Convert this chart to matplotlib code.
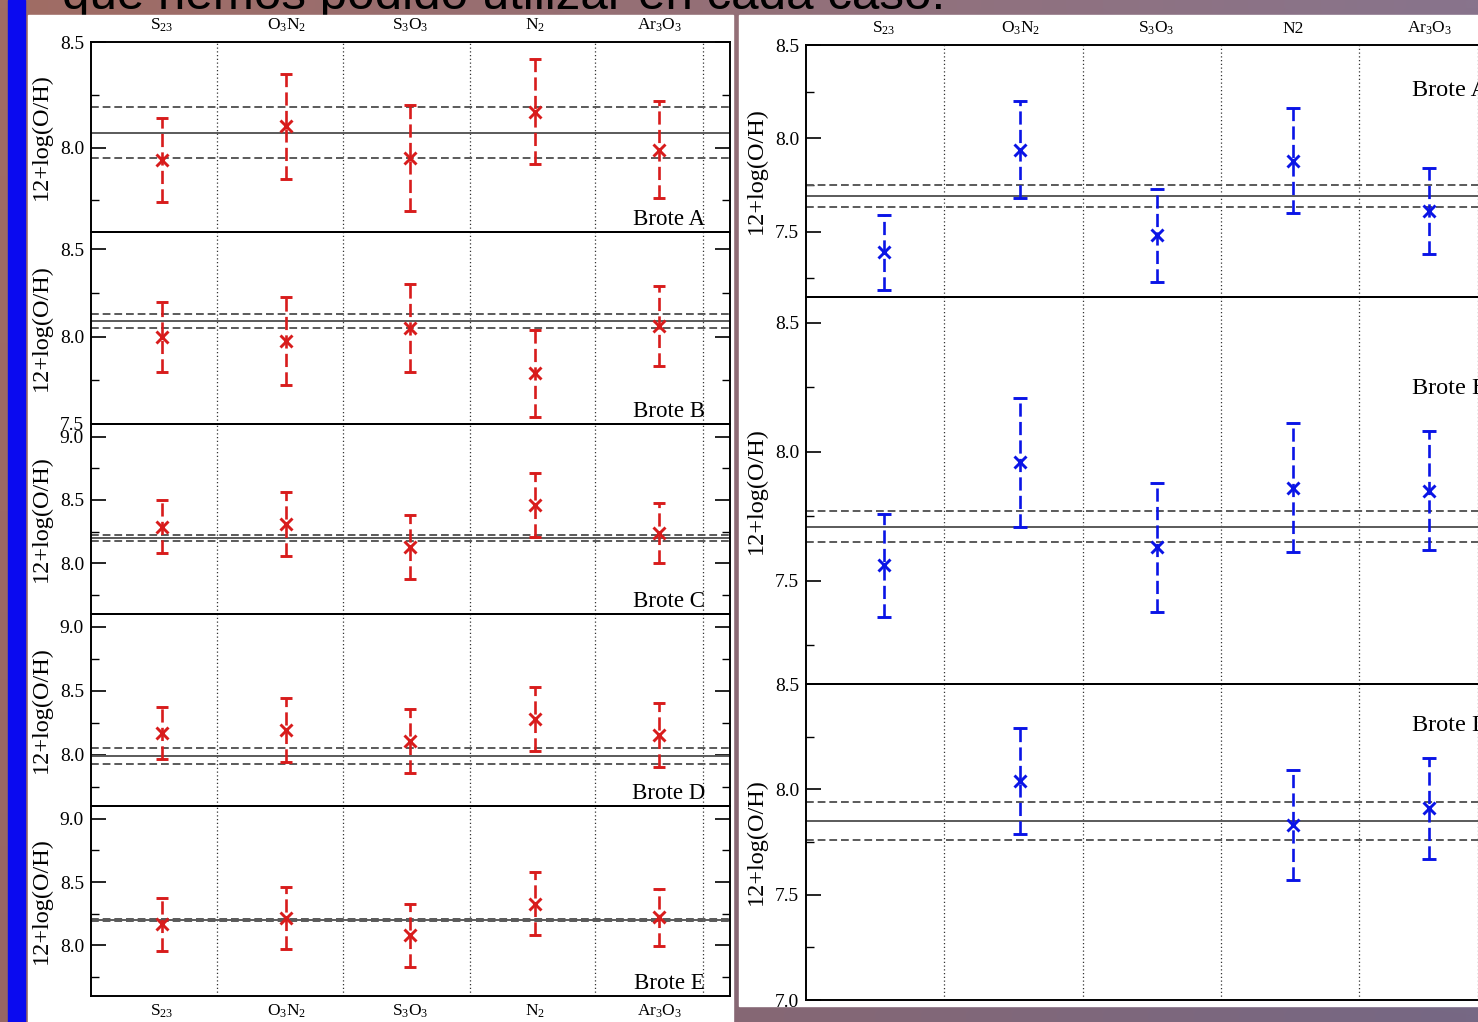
import numpy as np
import matplotlib
matplotlib.use("Agg")
import matplotlib.pyplot as plt
from matplotlib.ticker import MultipleLocator
from matplotlib.patches import Rectangle

# ---------------------------------------------------------------- data
categories_left = ['S$_{23}$', 'O$_3$N$_2$', 'S$_3$O$_3$', 'N$_2$', 'Ar$_3$O$_3$']
categories_right = ['S$_{23}$', 'O$_3$N$_2$', 'S$_3$O$_3$', 'N2', 'Ar$_3$O$_3$']
xpos = [1, 2, 3, 4, 5]

left_names = ['Brote A', 'Brote B', 'Brote C', 'Brote D', 'Brote E']
right_names = ['Brote A', 'Brote B', 'Brote D']

# 12+log(O/H) per method, left galaxy
left_a_oh = [7.94, 8.10, 7.95, 8.17, 7.99]
left_a_err = [0.20, 0.25, 0.25, 0.25, 0.23]
left_b_oh = [8.00, 7.975, 8.05, 7.79, 8.06]
left_b_err = [0.20, 0.25, 0.25, 0.25, 0.23]
left_c_oh = [8.29, 8.31, 8.13, 8.46, 8.24]
left_c_err = [0.21, 0.25, 0.25, 0.25, 0.24]
left_d_oh = [8.17, 8.195, 8.11, 8.28, 8.155]
left_d_err = [0.20, 0.25, 0.25, 0.25, 0.25]
left_e_oh = [8.165, 8.215, 8.08, 8.33, 8.22]
left_e_err = [0.21, 0.245, 0.25, 0.25, 0.225]

# direct-method abundance (solid) and its uncertainty (dashed)
left_direct = [8.07, 8.09, 8.20, 7.99, 8.20]
left_direct_err = [0.12, 0.04, 0.02, 0.06, 0.01]

# 12+log(O/H) per method, right galaxy
right_a_oh = [7.39, 7.94, 7.48, 7.88, 7.61]
right_a_err = [0.20, 0.26, 0.25, 0.28, 0.23]
right_b_oh = [7.56, 7.96, 7.63, 7.86, 7.85]
right_b_err = [0.20, 0.25, 0.25, 0.25, 0.23]
right_c_oh = [np.nan, 8.04, np.nan, 7.83, 7.91]
right_c_err = [np.nan, 0.25, np.nan, 0.26, 0.24]

right_direct = [7.69, 7.71, 7.85]
right_direct_err = [0.06, 0.06, 0.09]

left_ylims = [(7.6, 8.5), (7.5, 8.6), (7.6, 9.1), (7.6, 9.1), (7.6, 9.1)]
right_ylims = [(7.15, 8.5), (7.1, 8.6), (7.0, 8.5)]

# ---------------------------------------------------------------- style
W, H, DPI = 1478, 1022, 100
plt.rcParams['font.family'] = ['Liberation Serif', 'DejaVu Serif']
plt.rcParams['mathtext.fontset'] = 'custom'
plt.rcParams['mathtext.rm'] = 'Liberation Serif'
plt.rcParams['mathtext.it'] = 'Liberation Serif:italic'
plt.rcParams['mathtext.default'] = 'rm'

RED = '#d81c1c'
BLUE = '#0a14e6'
GREY = '#5a5a5a'
XLIM = (0.43, 5.57)
GRID_X = [1.445, 2.46, 3.475, 4.485, 5.355]

fig = plt.figure(figsize=(W / DPI, H / DPI), dpi=DPI)

# slide background
bg = fig.add_axes([0, 0, 1, 1], zorder=0)
bg.set_xlim(0, W)
bg.set_ylim(H, 0)
bg.axis('off')
yy, xx = np.mgrid[0:1:64j, 0:1:64j]
tl = np.array([160, 108, 100]); tr = np.array([136, 116, 140])
bl = np.array([150, 102, 100]); br = np.array([118, 104, 132])
grad = (tl * ((1 - xx) * (1 - yy))[..., None] + tr * (xx * (1 - yy))[..., None]
        + bl * ((1 - xx) * yy)[..., None] + br * (xx * yy)[..., None]) / 255.0
bg.imshow(grad, extent=(0, W, H, 0), aspect='auto', interpolation='bilinear', zorder=0)
bg.text(62, 9, 'que hemos podido utilizar en cada caso.', fontsize=35.5,
        family='Liberation Sans', color='black', ha='left', va='baseline', zorder=1)
bg.add_patch(Rectangle((8, 0), 17, H, color='#0a0af0', zorder=2))
bg.add_patch(Rectangle((28, 15), 705, H - 15, color='white', zorder=2))
bg.add_patch(Rectangle((739, 15), W - 739, 991, color='white', zorder=2))


def px_axes(x0, y0, x1, y1):
    return fig.add_axes([x0 / W, 1 - y1 / H, (x1 - x0) / W, (y1 - y0) / H], zorder=5)


def draw_panel(ax, vals, errs, direct, direct_err, ylim, color, cap, ms):
    ax.set_facecolor('none')
    ax.set_xlim(*XLIM)
    ax.set_ylim(*ylim)
    for gx in GRID_X:
        ax.axvline(gx, color='#333333', lw=0.9, ls=(0, (1, 2)), zorder=1)
    ax.axhline(direct, color=GREY, lw=1.4, zorder=2)
    for s in (-1, 1):
        ax.axhline(direct + s * direct_err, color=GREY, lw=1.4, ls=(0, (4, 2)), zorder=2)
    eb = ax.errorbar(xpos, vals, yerr=errs, fmt='x', color=color, ms=ms, mew=2.1,
                     elinewidth=1.9, capsize=cap, capthick=1.9, zorder=3)
    eb[2][0].set_linestyle((0, (5, 2)))
    ax.yaxis.set_major_locator(MultipleLocator(0.5))
    ax.yaxis.set_minor_locator(MultipleLocator(0.25))
    ax.tick_params(axis='y', which='major', direction='in', length=11, width=1.2,
                   left=True, right=True, labelsize=14, pad=5)
    ax.tick_params(axis='y', which='minor', direction='in', length=5.5, width=1.0,
                   left=True, right=True)
    ax.set_xticks(xpos)
    ax.tick_params(axis='x', length=0, labelbottom=False, labeltop=False)
    for sp in ax.spines.values():
        sp.set_linewidth(1.4)


# left galaxy: five stacked panels
left_vals = [left_a_oh, left_b_oh, left_c_oh, left_d_oh, left_e_oh]
left_errs = [left_a_err, left_b_err, left_c_err, left_d_err, left_e_err]
left_bounds = [42, 232, 424, 614, 806, 996]
for i in range(5):
    ax = px_axes(91, left_bounds[i], 730, left_bounds[i + 1])
    draw_panel(ax, left_vals[i], left_errs[i], left_direct[i], left_direct_err[i],
               left_ylims[i], RED, 4.3, 9)
    ax.set_ylabel('12+log(O/H)', fontsize=17.5)
    ax.yaxis.set_label_coords(-0.061, 0.5)
    ax.text(0.961, 0.037, left_names[i], transform=ax.transAxes, ha='right',
            va='baseline', fontsize=16.5, zorder=4)
    if i == 0:
        ax.set_xticklabels(categories_left, fontsize=12.5)
        ax.tick_params(axis='x', labeltop=True, pad=6)
    if i == 4:
        ax.set_xticklabels(categories_left, fontsize=12.5)
        ax.tick_params(axis='x', labelbottom=True, pad=5)

# right galaxy: three stacked panels
right_vals = [right_a_oh, right_b_oh, right_c_oh]
right_errs = [right_a_err, right_b_err, right_c_err]
right_bounds = [45, 297, 684, 1000]
right_name_y = [0.798, 0.749, 0.851]
for i in range(3):
    ax = px_axes(806, right_bounds[i], 1507, right_bounds[i + 1])
    draw_panel(ax, right_vals[i], right_errs[i], right_direct[i], right_direct_err[i],
               right_ylims[i], BLUE, 4.7, 9)
    ax.set_ylabel('12+log(O/H)', fontsize=17.5)
    ax.yaxis.set_label_coords(-0.0556, 0.5)
    ax.text(0.864, right_name_y[i], right_names[i], transform=ax.transAxes,
            ha='left', va='baseline', fontsize=17.5, zorder=4)
    if i == 0:
        ax.set_xticklabels(categories_right, fontsize=12.5)
        ax.tick_params(axis='x', labeltop=True, pad=6)

fig.savefig('out.png', dpi=DPI)
